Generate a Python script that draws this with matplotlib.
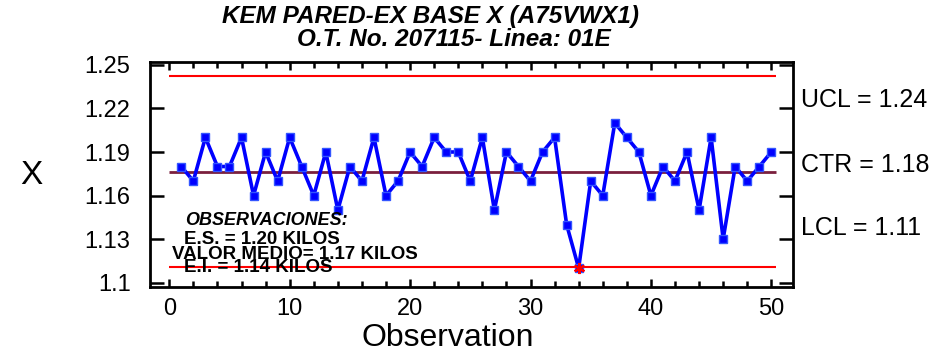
import matplotlib
matplotlib.use("Agg")
import matplotlib.pyplot as plt
from matplotlib.ticker import FixedLocator, MultipleLocator

plt.rcParams["font.family"] = ["Liberation Sans", "DejaVu Sans"]

# observation values
obs = list(range(1, 51))
x_vals = [
    1.18, 1.17, 1.20, 1.18, 1.18, 1.20, 1.16, 1.19, 1.17, 1.20,
    1.18, 1.16, 1.19, 1.15, 1.18, 1.17, 1.20, 1.16, 1.17, 1.19,
    1.18, 1.20, 1.19, 1.19, 1.17, 1.20, 1.15, 1.19, 1.18, 1.17,
    1.19, 1.20, 1.14, 1.11, 1.17, 1.16, 1.21, 1.20, 1.19, 1.16,
    1.18, 1.17, 1.19, 1.15, 1.20, 1.13, 1.18, 1.17, 1.18, 1.19,
]
ucl = 1.2425
ctr = 1.1765
lcl = 1.1105
flagged = [34]

limit_labels = ["UCL = 1.24", "CTR = 1.18", "LCL = 1.11"]
y_ticks = [1.10, 1.13, 1.16, 1.19, 1.22, 1.25]
notes = ["E.S. = 1.20 KILOS", "VALOR MEDIO= 1.17 KILOS", "E.I. = 1.14 KILOS"]

fig = plt.figure(figsize=(9.4, 3.53), dpi=100)
ax = fig.add_axes([150 / 940, 1 - 287 / 353, 643 / 940, 225 / 353])

ax.hlines([ucl, lcl], 0, 50.4, color="#ff0000", lw=1.5, zorder=2)
ax.hlines([ctr], 0, 50.4, color="#7a1f3d", lw=2, zorder=2)

ax.plot(obs, x_vals, color="#0000ff", lw=2.6, marker="s", ms=6,
        mfc="#0000ff", mec="#3355ff", zorder=3)
fx = flagged
fy = [x_vals[i - 1] for i in flagged]
ax.plot(fx, fy, ls="none", marker=(6, 2, 0), ms=8, mec="#ff0000",
        mew=1.6, zorder=4)

ax.set_xlim(-1.6, 51.8)
ax.set_ylim(1.097, 1.252)
ax.xaxis.set_major_locator(MultipleLocator(10))
ax.xaxis.set_minor_locator(MultipleLocator(2))
ax.yaxis.set_major_locator(FixedLocator(y_ticks))
ax.set_yticklabels(["%g" % v for v in y_ticks])

ax.tick_params(axis="both", which="both", direction="in", top=True, right=True,
               width=1.8, labelsize=17)
ax.tick_params(axis="x", which="major", length=6, pad=8)
ax.tick_params(axis="x", which="minor", length=4)
ax.tick_params(axis="y", which="major", length=10, pad=14)
for s in ax.spines.values():
    s.set_linewidth(2)

# limit labels on the right
for lab, yp in zip(limit_labels, [100, 165, 228]):
    fig.text(801 / 940, 1 - yp / 353, lab, fontsize=18, ha="left", va="center")

# notes inside the plot
ax.text(1.3, 1.1425, "OBSERVACIONES:", fontsize=13, fontweight="bold",
        fontstyle="italic", ha="left", va="center")
for txt, xp, yp in zip(notes, [1.2, 0.25, 1.2], [1.1298, 1.1192, 1.1106]):
    ax.text(xp, yp, txt, fontsize=13.5, fontweight="bold", ha="left", va="center")

fig.text(430 / 940, 1 - 16 / 353, "KEM PARED-EX BASE X (A75VWX1)", fontsize=17.5,
         fontweight="bold", fontstyle="italic", ha="center", va="center")
fig.text(454 / 940, 1 - 40 / 353, "O.T. No. 207115- Linea: 01E", fontsize=17.5,
         fontweight="bold", fontstyle="italic", ha="center", va="center")

fig.text(448 / 940, 1 - 338 / 353, "Observation", fontsize=23, ha="center", va="center")
fig.text(31 / 940, 1 - 175 / 353, "X", fontsize=24, ha="center", va="center")

fig.savefig("out.png", dpi=100)
